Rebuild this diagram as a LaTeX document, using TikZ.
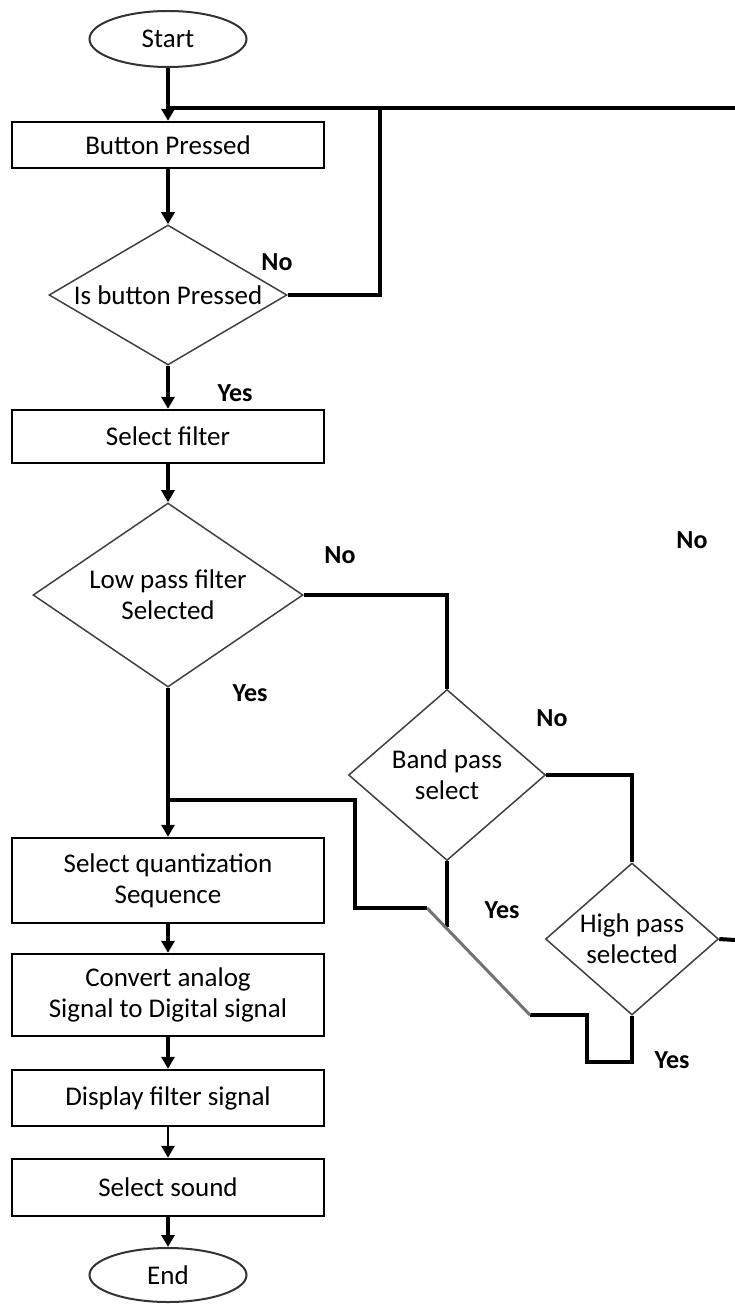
\documentclass[tikz,border=0pt]{standalone}
\usepackage{fontspec}
\setmainfont{Carlito}
\usetikzlibrary{shapes.geometric, arrows.meta}

\begin{document}
\begin{tikzpicture}[x=1pt, y=-1pt, >={Triangle[width=13pt,length=12pt]}, font=\fontsize{27}{31}\selectfont]

	\tikzstyle{box}=[rectangle, draw=black, line width=2.4pt, minimum width=312pt, align=center, inner sep=0pt]
	\tikzstyle{decision}=[diamond, draw=black!75, line width=1.5pt, align=center, inner sep=0pt]
	\tikzstyle{terminal}=[ellipse, draw=black!80, line width=2pt, minimum width=157pt, minimum height=56pt, inner sep=0pt]
	\tikzstyle{answer}=[font=\fontsize{26}{30}\selectfont\bfseries]
	\tikzstyle{flow}=[line width=4pt]

	\useasboundingbox (0,0) rectangle (735,1313);

	\node at (168,39) (start) [terminal] {Start};
	\node at (168,145) (pressed) [box, minimum height=46pt] {Button Pressed};
	\node at (168,295) (ispressed) [decision, aspect=1.7, minimum width=238pt, minimum height=140pt] {Is button Pressed};
	\node at (168,436.5) (selfilter) [box, minimum height=53pt] {Select filter};
	\node at (168,595) (lowpass) [decision, aspect=1.47, minimum width=270pt, minimum height=184pt] {Low pass filter\\Selected};
	\node at (447,775) (bandpass) [decision, aspect=1.15, minimum width=197pt, minimum height=171pt] {Band pass\\select};
	\node at (632,939) (highpass) [decision, aspect=1.14, minimum width=173pt, minimum height=152pt] {High pass\\selected};
	\node at (168,880.5) (quant) [box, minimum height=85pt] {Select quantization\\Sequence};
	\node at (168,995) (convert) [box, minimum height=82pt] {Convert analog\\Signal to Digital signal};
	\node at (168,1098) (display) [box, minimum height=56pt] {Display filter signal};
	\node at (168,1187.5) (sound) [box, minimum height=57pt] {Select sound};
	\node at (168,1275) (finish) [terminal, minimum height=54pt] {End};

	\node at (277,262) (pressedno) [answer] {No};
	\node at (235,393) (pressedyes) [answer] {Yes};
	\node at (340,555) (lowno) [answer] {No};
	\node at (692,540) (sideno) [answer] {No};
	\node at (250,693) (lowyes) [answer] {Yes};
	\node at (552,718) (bandno) [answer] {No};
	\node at (502,910) (bandyes) [answer] {Yes};
	\node at (672,1060) (highyes) [answer] {Yes};

	\coordinate (topjoin) at (168,108);
	\coordinate (topedge) at (735,108);
	\coordinate (noloop) at (380,108);
	\coordinate (hpedge) at (735,940);
	\coordinate (bpjoin) at (447,927);
	\coordinate (hploop) at (587,1062);
	\coordinate (diagfoot) at (530,1015);
	\coordinate (diagtop) at (427,908);
	\coordinate (backturn) at (355,800);
	\coordinate (mergein) at (168,800);

	\draw[->, flow] (start) -- (pressed);
	\draw[->, flow] (pressed) -- (ispressed);
	\draw[->, flow] (ispressed) -- (selfilter);
	\draw[->, flow] (selfilter) -- (lowpass);
	\draw[->, flow] (lowpass) -- (quant);
	\draw[->, flow] (quant) -- (convert);
	\draw[->, flow] (convert) -- (display);
	\draw[->, line width=2.6pt] (display) -- (sound);
	\draw[->, flow] (sound) -- (finish);

	\draw[flow] (ispressed.east) -| (noloop);
	\draw[flow] (topjoin) -- (topedge);
	\draw[flow] (lowpass.east) -| (bandpass.north);
	\draw[flow] (bandpass.east) -| (highpass.north);
	\draw[flow] (highpass.east) -- (hpedge);
	\draw[flow] (bandpass.south) -- (bpjoin);
	\draw[flow] (highpass.south) |- (hploop) |- (diagfoot);
	\draw[flow, draw=black!55, line width=3pt] (diagfoot) -- (diagtop);
	\draw[flow] (diagtop) -| (backturn) -- (mergein);
\end{tikzpicture}
\end{document}
